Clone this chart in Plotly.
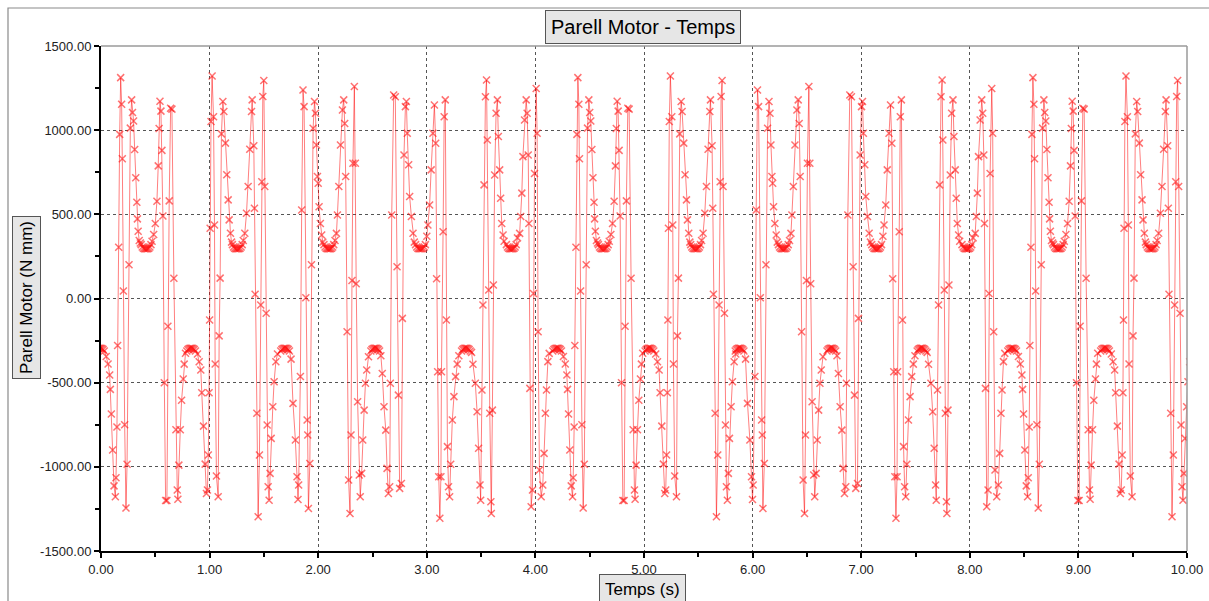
import plotly.graph_objects as go

# ---- data (time in s, torque in N mm) ----
# centre time of each lower (-300) plateau, one per cycle
period_center = [-0.01, 0.83, 1.695, 2.525, 3.36, 4.20, 5.05, 5.88, 6.725, 7.555, 8.39, 9.245]
# which of the five observed cycle shapes each cycle shows (pattern repeats every 5 cycles)
period_shape = ["A", "B", "C", "D", "E", "A", "B", "C", "D", "E", "A", "B"]

# time offsets from the cycle centre and values, cycle shape A
tau_A = [-0.04, -0.03, -0.02, -0.01, 0.0, 0.01, 0.02, 0.03, 0.04,
         0.058, 0.075, 0.09, 0.096, 0.105, 0.117, 0.13, 0.142, 0.148, 0.157,
         0.163, 0.173, 0.182, 0.191, 0.2, 0.206, 0.216, 0.228, 0.24, 0.25,
         0.268, 0.28, 0.292, 0.3, 0.31, 0.32, 0.33, 0.34, 0.345, 0.352,
         0.362, 0.372,
         0.38, 0.39, 0.4, 0.41, 0.42, 0.43, 0.44, 0.45, 0.46, 0.47,
         0.48, 0.495, 0.51, 0.525, 0.537, 0.545, 0.553, 0.562, 0.571, 0.58,
         0.593, 0.605, 0.617, 0.626, 0.638, 0.651, 0.663, 0.681, 0.7, 0.712,
         0.718, 0.727, 0.74, 0.752, 0.767, 0.776, 0.788]
y_A = [-312, -303, -298, -296, -295, -296, -298, -303, -312,
       -345, -389, -455, -540, -686, -900, -1113, -1178, -1065, -763,
       -279, 305, 975, 1312, 1154, 830, 44, -750, -1245, -985,
       200, 1012, 1180, 1105, 1055, 885, 717, 572, 473, 400,
       345, 330,
       320, 306, 299, 296, 295, 295, 296, 299, 306, 320,
       340, 380, 445, 578, 788, 1010, 1172, 1113, 880, 490,
       -500, -1200, -1200, -165, 580, 1130, 1125, 120, -780, -1138,
       -1193, -990, -780, -605, -478, -390, -325]

tau_B = [-0.04, -0.03, -0.02, -0.01, 0.0, 0.01, 0.02, 0.03, 0.04,
         0.058, 0.074, 0.089, 0.098, 0.114, 0.129, 0.141, 0.15, 0.158, 0.165,
         0.17, 0.175, 0.183, 0.193, 0.206, 0.215, 0.221, 0.233, 0.249, 0.258,
         0.267, 0.279, 0.292, 0.301, 0.316, 0.328, 0.341, 0.35, 0.362, 0.372,
         0.38, 0.39, 0.4, 0.41, 0.42, 0.43, 0.44, 0.45, 0.46, 0.47,
         0.48, 0.494, 0.51, 0.525, 0.54, 0.556, 0.562, 0.577, 0.583, 0.589,
         0.605, 0.617, 0.629, 0.641, 0.651, 0.66, 0.669, 0.678, 0.691, 0.7,
         0.709, 0.718, 0.727, 0.737, 0.752, 0.764, 0.78, 0.795]
y_B = [-312, -303, -298, -296, -295, -296, -298, -303, -312,
       -330, -376, -425, -560, -758, -984, -1158, -1138, -930, -560,
       -128, 417, 1051, 1322, 1080, 437, -389, -1055, -1178, -222,
       121, 978, 1170, 1111, 923, 735, 586, 467, 388, 335,
       320, 306, 299, 296, 295, 295, 296, 299, 306, 320,
       345, 388, 507, 665, 887, 1111, 1180, 907, 536, 25,
       -682, -1296, -930, -39, 694, 1200, 1295, 665, -88, -752,
       -1118, -1198, -1039, -831, -643, -494, -376, -330]

tau_C = [-0.04, -0.03, -0.02, -0.01, 0.0, 0.01, 0.02, 0.03, 0.04,
         0.055, 0.073, 0.095, 0.11, 0.119, 0.125, 0.141, 0.153, 0.165, 0.175,
         0.191, 0.203, 0.209, 0.215, 0.228, 0.243, 0.258, 0.271, 0.28, 0.289,
         0.298, 0.305, 0.313, 0.325, 0.337, 0.347,
         0.358, 0.368, 0.378, 0.388, 0.398, 0.408, 0.418, 0.428, 0.438, 0.448,
         0.46, 0.473, 0.482, 0.495, 0.51, 0.528, 0.54, 0.549, 0.558, 0.571,
         0.585, 0.598, 0.607, 0.616, 0.625, 0.638, 0.647, 0.655, 0.668, 0.683,
         0.692, 0.705, 0.715, 0.728, 0.74, 0.752, 0.768]
y_C = [-312, -303, -298, -296, -295, -296, -298, -303, -312,
       -360, -623, -841, -1059, -1194, -1108, -463, 526, 1239, 1140,
       4, -722, -811, -1247, -980, 200, 1011, 1170, 1100, 912,
       725, 685, 545, 446, 377, 335,
       320, 306, 299, 296, 295, 295, 296, 299, 306, 320,
       345, 387, 496, 665, 912, 1120, 1180, 1040, 725, -197,
       -1078, -1277, -811, 107, 804, 1259, 804, 88, -613, -1049,
       -1178, -1039, -841, -663, -504, -425, -346]

tau_D = [-0.04, -0.03, -0.02, -0.01, 0.0, 0.01, 0.02, 0.03, 0.04,
         0.052, 0.065, 0.081, 0.097, 0.109, 0.121, 0.133, 0.139, 0.152, 0.17,
         0.185, 0.201, 0.213, 0.225, 0.241, 0.25, 0.265, 0.278, 0.287, 0.295,
         0.308, 0.317, 0.333, 0.348, 0.36,
         0.372, 0.382, 0.392, 0.402, 0.412, 0.422, 0.432, 0.442, 0.452, 0.462,
         0.475, 0.485, 0.501, 0.515, 0.531, 0.545, 0.557, 0.565, 0.575, 0.585,
         0.595, 0.605, 0.61, 0.625, 0.635, 0.645, 0.655, 0.665, 0.675, 0.685,
         0.695, 0.71, 0.725, 0.74, 0.755, 0.77]
y_D = [-312, -303, -298, -296, -295, -296, -298, -303, -312,
       -340, -445, -643, -782, -1009, -1158, -1118, -504, 496, 1209,
       1199, 189, -574, -1128, -1099, -118, 853, 1140, 1170, 982,
       794, 606, 487, 388, 335,
       320, 306, 299, 296, 295, 295, 296, 299, 306, 320,
       370, 437, 556, 764, 982, 1150, 922, 117, -435, -1059,
       -1306, -1059, -435, 397, 1080, 1180, -128, -880, -1118, -1178,
       -985, -722, -583, -464, -390, -340]

tau_E = [-0.04, -0.03, -0.02, -0.01, 0.0, 0.01, 0.02, 0.03, 0.04,
         0.052, 0.065, 0.087, 0.103, 0.117, 0.13, 0.136, 0.148, 0.157, 0.167,
         0.18, 0.19, 0.197, 0.21, 0.22, 0.23, 0.234, 0.244, 0.253, 0.265,
         0.278, 0.29, 0.299, 0.311, 0.32, 0.33, 0.342, 0.352,
         0.373, 0.383, 0.393, 0.403, 0.413, 0.423, 0.433, 0.443, 0.453, 0.463,
         0.475, 0.495, 0.505, 0.515, 0.525, 0.54, 0.555, 0.564, 0.574, 0.58,
         0.589, 0.601, 0.613, 0.622, 0.632, 0.647, 0.656, 0.665, 0.677, 0.693,
         0.708, 0.72, 0.732, 0.742, 0.755, 0.767]
y_E = [-312, -303, -298, -296, -295, -296, -298, -303, -312,
       -320, -391, -504, -673, -890, -1108, -1198, -543, -39, 675,
       1199, 1298, 942, 50, -682, -1207, -1277, -663, 80, 734,
       1100, 1180, 962, 764, 596, 446, 377, 340,
       320, 306, 299, 296, 295, 295, 296, 299, 306, 320,
       360, 387, 487, 626, 843, 1060, 1180, 1100, 853, 446,
       -534, -1237, -1138, 30, 743, 1248, 982, -197, -1019, -1178,
       -1108, -920, -682, -543, -375, -326]

x_ticks = [0, 1, 2, 3, 4, 5, 6, 7, 8, 9, 10]
x_tick_labels = ["0.00", "1.00", "2.00", "3.00", "4.00", "5.00", "6.00", "7.00", "8.00", "9.00", "10.00"]
y_ticks = [-1500, -1000, -500, 0, 500, 1000, 1500]
y_tick_labels = ["-1500.00", "-1000.00", "-500.00", "0.00", "500.00", "1000.00", "1500.00"]

shapes_data = {"A": (tau_A, y_A), "B": (tau_B, y_B), "C": (tau_C, y_C),
               "D": (tau_D, y_D), "E": (tau_E, y_E)}

xs, ys = [], []
for c, s in zip(period_center, period_shape):
    tau, vals = shapes_data[s]
    for t, v in zip(tau, vals):
        xs.append(round(c + t, 4))
        ys.append(v)

FONT = "Liberation Sans, Arial, sans-serif"

fig = go.Figure()
fig.add_trace(go.Scatter(
    x=xs, y=ys, mode="lines+markers",
    line=dict(color="rgba(255,0,0,0.5)", width=1),
    marker=dict(symbol="x-thin", size=7, color="rgba(255,20,20,0.6)",
                line=dict(color="rgba(255,20,20,0.6)", width=1.5)),
    showlegend=False, hoverinfo="x+y"))

axis_common = dict(
    showline=True, linecolor="black", linewidth=2, automargin=False,
    ticks="outside", ticklen=5, tickwidth=1.5, tickcolor="black",
    showgrid=True, gridcolor="#555555", gridwidth=1, griddash="dot",
    zeroline=False, tickfont=dict(family=FONT, size=13, color="#222222"),
)

fig.update_xaxes(range=[0, 10], tickvals=x_ticks, ticktext=x_tick_labels,
                 minor=dict(dtick=0.5, ticklen=4, tickwidth=1.5, tickcolor="black", showgrid=False),
                 **axis_common)
fig.update_yaxes(range=[-1500, 1500], tickvals=y_ticks, ticktext=y_tick_labels,
                 minor=dict(dtick=250, ticklen=4, tickwidth=1.5, tickcolor="black", showgrid=False),
                 **axis_common)

W, H = 1209, 601
L, R, T, B = 101, 1187, 46, 551


def px(xp):
    return (xp - L) / (R - L)


def py(yp):
    return (B - yp) / (B - T)


fig.update_layout(
    width=W, height=H, autosize=False,
    margin=dict(l=L, r=W - R, t=T, b=H - B, pad=0, autoexpand=False),
    paper_bgcolor="white", plot_bgcolor="white",
    font=dict(family=FONT, color="black"),
    shapes=[
        # outer frame
        dict(type="rect", xref="paper", yref="paper", x0=px(8), x1=px(1300), y0=py(700), y1=py(8),
             line=dict(color="#8a8a8a", width=1.2), fillcolor="rgba(0,0,0,0)", layer="below"),
        # top and right plot borders
        dict(type="line", xref="paper", yref="paper", x0=0, x1=1, y0=1, y1=1,
             line=dict(color="#9a9a9a", width=1.5)),
        dict(type="line", xref="paper", yref="paper", x0=1, x1=1, y0=0, y1=1,
             line=dict(color="#9a9a9a", width=1.5)),
    ],
    annotations=[
        dict(text="Parell Motor - Temps", xref="paper", yref="paper", x=px(643), y=py(27),
             showarrow=False, font=dict(family=FONT, size=20, color="black"),
             bgcolor="#e6e6e6", bordercolor="#555555", borderwidth=1, borderpad=5,
             xanchor="center", yanchor="middle"),
        dict(text="Parell Motor (N mm)", xref="paper", yref="paper", x=px(26), y=py(298),
             showarrow=False, textangle=-90, font=dict(family=FONT, size=17, color="black"),
             bgcolor="#e6e6e6", bordercolor="#555555", borderwidth=1, borderpad=4,
             xanchor="center", yanchor="middle"),
        dict(text="Temps (s)", xref="paper", yref="paper", x=px(642), y=py(589),
             showarrow=False, font=dict(family=FONT, size=17, color="black"),
             bgcolor="#e6e6e6", bordercolor="#555555", borderwidth=1, borderpad=5,
             xanchor="center", yanchor="middle"),
    ],
)

fig.write_html("out.html",
               config={"displayModeBar": False, "responsive": False},
               post_script="document.body.style.margin='0';document.body.style.overflow='hidden';")
